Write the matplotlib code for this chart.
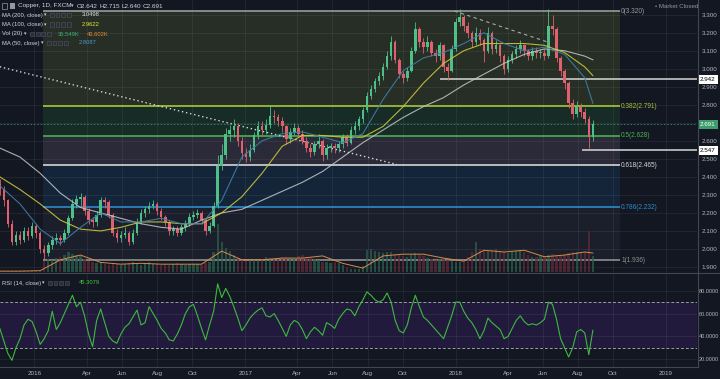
import matplotlib
matplotlib.use('Agg')
import matplotlib.pyplot as plt
import matplotlib.dates as mdates
import matplotlib.transforms as mtransforms
from matplotlib.patches import Rectangle
from matplotlib.lines import Line2D
import numpy as np
import pandas as pd

plt.rcParams['font.family'] = ['Liberation Sans', 'DejaVu Sans']

# ---------------- data (weekly samples) ----------------
first_date = '2015-11-02'
open_first = 2.36
close = [2.33,2.27,2.14,2.04,2.08,2.05,2.10,2.07,2.13,2.09,
         2.00,1.98,2.02,2.05,2.06,2.05,2.09,2.17,2.25,2.28,
         2.29,2.21,2.16,2.15,2.19,2.27,2.26,2.19,2.09,2.06,
         2.08,2.09,2.04,2.09,2.15,2.20,2.22,2.24,2.25,2.21,
         2.18,2.15,2.10,2.11,2.09,2.12,2.14,2.18,2.19,2.20,
         2.16,2.10,2.13,2.24,2.46,2.52,2.64,2.66,2.68,2.60,
         2.53,2.51,2.55,2.63,2.68,2.66,2.69,2.74,2.73,2.71,
         2.68,2.61,2.65,2.67,2.64,2.60,2.56,2.54,2.58,2.60,
         2.52,2.56,2.57,2.56,2.58,2.62,2.59,2.66,2.68,2.72,
         2.77,2.85,2.89,2.93,2.96,3.01,3.07,3.15,3.05,2.97,
         2.95,2.99,3.10,3.22,3.15,3.12,3.15,3.09,3.07,3.13,
         3.01,2.99,3.11,3.26,3.29,3.24,3.20,3.15,3.20,3.16,
         3.10,3.20,3.11,3.13,3.07,3.00,3.05,3.08,3.11,3.13,
         3.10,3.07,3.10,3.09,3.09,3.07,3.24,3.22,3.06,2.99,
         2.92,2.81,2.75,2.79,2.76,2.72,2.62,2.691]
high = [2.39,2.35,2.28,2.16,2.10,2.10,2.12,2.12,2.15,2.14,
        2.10,2.02,2.04,2.07,2.09,2.08,2.11,2.19,2.28,2.30,
        2.31,2.30,2.23,2.18,2.21,2.29,2.29,2.27,2.20,2.11,
        2.10,2.12,2.10,2.11,2.17,2.22,2.24,2.26,2.27,2.26,
        2.23,2.19,2.16,2.13,2.13,2.14,2.16,2.20,2.21,2.22,
        2.21,2.17,2.15,2.26,2.52,2.58,2.67,2.69,2.72,2.70,
        2.62,2.56,2.58,2.65,2.71,2.71,2.72,2.80,2.77,2.75,
        2.73,2.69,2.67,2.70,2.69,2.66,2.62,2.58,2.60,2.64,
        2.61,2.58,2.59,2.59,2.60,2.64,2.64,2.68,2.71,2.74,
        2.79,2.87,2.91,2.95,2.98,3.03,3.10,3.18,3.16,3.06,
        2.99,3.01,3.12,3.26,3.23,3.17,3.18,3.16,3.11,3.15,
        3.14,3.03,3.13,3.28,3.33,3.30,3.26,3.21,3.23,3.22,
        3.17,3.23,3.21,3.16,3.14,3.08,3.07,3.10,3.13,3.16,
        3.14,3.11,3.12,3.12,3.11,3.11,3.33,3.30,3.23,3.07,
        3.00,2.93,2.83,2.82,2.81,2.78,2.74,2.715]
low = [2.30,2.24,2.12,2.02,2.02,2.03,2.04,2.05,2.06,2.06,
       1.98,1.94,1.96,2.00,2.03,2.02,2.04,2.08,2.16,2.23,
       2.24,2.19,2.14,2.12,2.13,2.18,2.23,2.17,2.07,2.04,
       2.04,2.06,2.02,2.03,2.08,2.14,2.18,2.20,2.22,2.19,
       2.16,2.13,2.08,2.08,2.07,2.08,2.10,2.13,2.16,2.17,
       2.14,2.08,2.09,2.12,2.23,2.44,2.50,2.60,2.62,2.57,
       2.50,2.48,2.49,2.54,2.61,2.63,2.64,2.67,2.70,2.68,
       2.65,2.58,2.59,2.63,2.62,2.58,2.54,2.51,2.52,2.56,
       2.49,2.50,2.54,2.53,2.54,2.56,2.57,2.58,2.64,2.66,
       2.70,2.76,2.83,2.87,2.91,2.94,3.00,3.05,3.03,2.95,
       2.92,2.93,2.98,3.09,3.12,3.09,3.10,3.07,3.04,3.05,
       2.98,2.94,2.98,3.10,3.24,3.21,3.17,3.12,3.13,3.13,
       3.04,3.09,3.08,3.09,3.04,2.97,2.98,3.03,3.06,3.09,
       3.07,3.05,3.05,3.06,3.06,3.05,3.06,3.19,3.04,2.96,
       2.89,2.78,2.72,2.73,2.73,2.70,2.56,2.60]
volume_k = [3,2,3,2,3,2,2,3,2,3,3,
            25,30,28,32,35,40,45,42,38,36,
            30,25,22,20,22,18,17,19,18,16,
            18,20,22,19,17,21,22,19,18,17,
            19,17,18,20,19,17,18,19,18,17,20,22,
            45,110,70,55,48,40,
            32,28,25,27,30,28,31,35,33,30,32,35,
            34,32,30,36,38,35,33,30,27,24,22,20,
            22,20,16,12,8,6,8,14,
            50,52,48,46,44,45,46,40,38,36,35,40,44,38,36,33,30,28,30,32,
            28,25,22,24,27,35,45,
            70,52,50,48,50,52,48,45,44,46,48,50,47,
            38,35,34,36,37,40,42,38,40,39,
            44,45,46,45,47,95,36]
ma_sample_idx = list(range(0, 148, 5)) + [147]
ma200 = [2.56,2.51,2.42,2.31,2.23,2.20,2.17,2.14,2.12,2.11,2.16,2.20,2.22,2.27,2.32,2.37,
         2.43,2.51,2.59,2.66,2.73,2.79,2.84,2.91,2.97,3.03,3.08,3.11,3.10,3.07,3.0498]
ma100 = [2.40,2.33,2.25,2.16,2.11,2.10,2.12,2.15,2.15,2.14,2.14,2.20,2.29,2.42,2.57,2.63,
         2.63,2.62,2.62,2.68,2.79,2.92,3.03,3.10,3.14,3.14,3.14,3.13,3.09,3.01,2.9622]
ma50 = [2.35,2.25,2.11,2.03,2.12,2.20,2.15,2.15,2.17,2.14,2.14,2.27,2.51,2.60,2.64,2.65,
        2.62,2.59,2.64,2.83,2.99,3.06,3.09,3.14,3.20,3.14,3.10,3.12,3.08,2.95,2.8087]
vol_ma20 = [2,2,3,28,39,22,18,20,18,18,18,48,28,28,32,32,37,20,9,37,41,41,32,25,50,46,
            50,35,39,46,43.6]
rsi = [47,36,25,19,30,38,50,55,53,44,
       33,38,45,62,46,52,60,68,76,66,
       70,58,42,31,54,64,52,40,36,34,
       42,48,51,57,63,50,52,66,60,54,
       47,43,37,36,42,50,60,66,68,58,
       47,37,50,62,86,74,82,75,66,56,
       45,50,56,60,63,65,58,57,60,54,
       47,40,50,54,52,46,38,44,48,45,
       41,52,50,47,55,60,64,63,58,66,
       72,79,76,72,70,72,78,70,54,45,
       43,50,65,76,66,57,54,50,46,42,
       38,48,58,70,70,62,56,52,46,38,
       45,56,52,49,46,38,40,47,54,58,
       53,50,51,50,52,55,70,68,55,38,
       30,22,30,44,46,43,24,45.3079]

fib_high, fib_low = 3.320, 1.936
fib_levels = [0, 0.382, 0.5, 0.618, 0.786, 1]
fib_start, fib_end = '2016-01-16', '2018-10-13'
hline_prices = [2.942, 2.547]
hline_starts = ['2017-12-05', '2018-08-09']
trend_dotted_dates = ['2015-11-02', '2017-09-21']
trend_dotted_prices = [3.011, 2.469]
trend_dashed_dates = ['2017-12-30', '2018-06-08']
trend_dashed_prices = [3.320, 3.150]
last_price = 2.691
time_ticks = ['2016-01-01','2016-04-01','2016-06-01','2016-08-01','2016-10-01',
              '2017-01-01','2017-04-01','2017-06-01','2017-08-01','2017-10-01',
              '2018-01-01','2018-04-01','2018-06-01','2018-08-01','2018-10-01','2019-01-01']
time_labels = ['2016','Apr','Jun','Aug','Oct','2017','Apr','Jun','Aug','Oct',
               '2018','Apr','Jun','Aug','Oct','2019']
price_ticks = [1.9,2.0,2.1,2.2,2.3,2.4,2.5,2.6,2.7,2.8,2.9,3.0,3.1,3.2,3.3]
price_tick_hidden = [2.7]          # covered by the last-price tag in the reference
rsi_ticks = [20,40,60,80]

# ---------------- style ----------------
BG = '#131722'
UP, DN = '#4fbf88', '#e0616d'
TXT = '#b2b5be'
W, H = 720, 379
FAM = ['Liberation Sans', 'DejaVu Sans']

def fx(px): return px / W
def fy(py): return 1 - py / H

fig = plt.figure(figsize=(7.2, 3.79), dpi=100, facecolor=BG)

base = mdates.date2num(pd.Timestamp('2016-01-01'))
ppd = 210.5 / 365.25
xmin = base - 34.4 / ppd
xmax = base + (697 - 34.4) / ppd
d = lambda s: mdates.date2num(pd.Timestamp(s))

x = mdates.date2num(pd.date_range(first_date, periods=len(close), freq='7D'))
c = np.array(close); o = np.array([open_first] + close[:-1])
hi = np.array(high); lo = np.array(low)
up = c >= o
cols = np.where(up, UP, DN)

# ---------------- main panel ----------------
ax = fig.add_axes([0, fy(272), fx(697), 272 / H])
ax.set_facecolor(BG)
ax.set_xlim(xmin, xmax)
ylo, yhi = 3.3 - (272 - 14.7) / 180.2, 3.3 + 14.7 / 180.2
ax.set_ylim(ylo, yhi)

fib_prices = [fib_high - l * (fib_high - fib_low) for l in fib_levels]
fill_cols = ['#262e25', '#172b27', '#2a2a38', '#14253a', '#1b1f2c']
line_cols = ['#9a9a9a', '#a4c63a', '#4caf50', '#d6d6d6', '#2e8bc9', '#8f8f8f']
fs, fe = d(fib_start), d(fib_end)
for i in range(len(fib_prices) - 1):
    ax.fill_between([fs, fe], fib_prices[i], fib_prices[i + 1], color=fill_cols[i], lw=0, zorder=0.5)
for l, p, col in zip(fib_levels, fib_prices, line_cols):
    ax.hlines(p, fs, fe, color=col, lw=1.2, zorder=1.2)
    ax.text(fe + 2, p, f"{l:g}({p:.3f})", color=col, fontsize=4.7, family=FAM,
            va='center', ha='left', zorder=6)

for p in price_ticks:
    ax.axhline(p, color='white', alpha=0.07, lw=0.6, zorder=1)
for t in time_ticks:
    ax.axvline(d(t), color='white', alpha=0.07, lw=0.6, zorder=1)

# volume
trans = mtransforms.blended_transform_factory(ax.transData, ax.transAxes)
vol_scale = 272 * 2.3
vcols = np.where(up, '#2a5e4b', '#5f2a37')
ax.bar(x, np.array(volume_k) / vol_scale, width=4.0, bottom=0, color=vcols, lw=0,
       transform=trans, zorder=1.5, alpha=0.75)
xs = x[ma_sample_idx]
ax.plot(xs, np.array(vol_ma20) / vol_scale, color='#d98a48', lw=0.7, transform=trans, zorder=1.6)

# horizontal lines / trend lines
for p, s in zip(hline_prices, hline_starts):
    ax.hlines(p, d(s), xmax, color='#d8d8d8', lw=1.1, zorder=2)
ax.plot([d(s) for s in trend_dotted_dates], trend_dotted_prices, color='#d8d8d8', lw=1.0,
        ls=(0, (1, 2)), zorder=2)
ax.plot([d(s) for s in trend_dashed_dates], trend_dashed_prices, color='#aaaaaa', lw=0.8,
        ls=(0, (3, 3)), zorder=2)
ax.axhline(last_price, color='#3aa07a', lw=0.6, ls=(0, (2, 2)), alpha=0.8, zorder=2)

# moving averages
ax.plot(xs, ma200, color='#c8c8c8', lw=0.8, alpha=0.85, zorder=5)
ax.plot(xs, ma100, color='#c8c83a', lw=0.8, alpha=0.9, zorder=5)
ax.plot(xs, ma50, color='#3d7fa6', lw=0.8, alpha=0.9, zorder=5)

# candles
ax.vlines(x, lo, hi, colors=cols, lw=0.6, zorder=3)
ax.bar(x, np.maximum(np.abs(c - o), 0.004), bottom=np.minimum(o, c), width=4.5,
       color=cols, lw=0, zorder=4)

ax.yaxis.tick_right()
ax.set_yticks(price_ticks)
ax.set_yticklabels(['' if p in price_tick_hidden else f"{p:.3f}" for p in price_ticks])
ax.tick_params(axis='y', length=0, pad=3.5, labelcolor=TXT, labelsize=4.5)
ax.set_xticks([])
for sp in ax.spines.values():
    sp.set_visible(False)

tb = mtransforms.blended_transform_factory(ax.transAxes, ax.transData)
for p, fc, tc in [(2.942, '#ffffff', '#000000'), (last_price, '#3c9c6c', '#ffffff'),
                  (2.547, '#ffffff', '#000000')]:
    ax.text(1.004, p, f"{p:.3f}", transform=tb, fontsize=4.5, family=FAM, color=tc,
            va='center', ha='left',
            bbox=dict(boxstyle='square,pad=0.35', fc=fc, ec='none'), zorder=10, clip_on=False)

# ---------------- RSI panel ----------------
axr = fig.add_axes([0, fy(367), fx(697), (367 - 273) / H])
axr.set_facecolor(BG)
axr.set_xlim(xmin, xmax)
axr.set_ylim(13.2, 95.5)
axr.axhspan(30, 70, color='#221a3c', lw=0, zorder=0)
for v in rsi_ticks:
    axr.axhline(v, color='white', alpha=0.07, lw=0.6, zorder=1)
for t in time_ticks:
    axr.axvline(d(t), color='white', alpha=0.07, lw=0.6, zorder=1)
for v in (70, 30):
    axr.axhline(v, color='#9a9ca6', lw=0.7, ls=(0, (3, 2)), zorder=2)
axr.plot(x, rsi, color='#3cba3c', lw=0.8, zorder=3)
axr.yaxis.tick_right()
axr.set_yticks(rsi_ticks)
axr.set_yticklabels([f"{v:.4f}" for v in rsi_ticks])
axr.tick_params(axis='y', length=0, pad=1.0, labelcolor=TXT, labelsize=4.0)
axr.set_xticks([d(t) for t in time_ticks])
axr.set_xticklabels(time_labels)
axr.tick_params(axis='x', length=0, pad=3, labelcolor=TXT, labelsize=4.5)
for sp in axr.spines.values():
    sp.set_visible(False)

# separators
sep = '#434651'
fig.add_artist(Line2D([fx(697.5)] * 2, [fy(0), fy(367)], color=sep, lw=0.8))
fig.add_artist(Line2D([0, 1], [fy(272.5)] * 2, color=sep, lw=0.8))
fig.add_artist(Line2D([0, fx(697.5)], [fy(367)] * 2, color=sep, lw=0.8))

# ---------------- legend texts ----------------
def ftext(px, py, s, color='#d1d4dc', size=4.2, **kw):
    fig.text(fx(px), fy(py), s, color=color, fontsize=size, family=FAM,
             va='center', ha='left', **kw)

def arrow(px, py, color='#d1d4dc'):
    fig.text(fx(px), fy(py), '\u25be', color=color, fontsize=3.5, family='DejaVu Sans',
             va='center', ha='left')

def icons(px, py, n=4):
    for k in range(n):
        fig.add_artist(Rectangle((fx(px + k * 5.5), fy(py + 2)), 4 / W, 4 / H,
                                 fc='#2a2e39', ec='#50535e', lw=0.4))

fig.add_artist(Rectangle((fx(2), fy(9)), 5 / W, 6 / H, fc='none', ec='#9598a1', lw=0.5))
fig.add_artist(Rectangle((fx(10), fy(9)), 5 / W, 6 / H, fc='#9598a1', ec='none'))
ftext(18, 6, 'Copper, 1D, FXCM', size=4.6)
arrow(71, 6)
ftext(77, 6, 'O2.642', size=4.6)
ftext(99, 6, 'H2.715', size=4.6)
ftext(122, 6, 'L2.640', size=4.6)
ftext(143, 6, 'C2.691', size=4.6)

ftext(2, 15, 'MA (200, close)')
arrow(44, 15)
icons(50, 15)
ftext(82, 15, '3.0498', color='#e0e0e0')
ftext(2, 24.5, 'MA (100, close)')
arrow(44, 24.5)
icons(50, 24.5)
ftext(82, 24.5, '2.9622', color='#e6e63a')
ftext(2, 34, 'Vol (20)')
arrow(24, 34)
icons(30, 34)
ftext(58, 34, '35.549K', color='#3fae7a')
ftext(87, 34, '43.602K', color='#e8883c')
ftext(2, 43, 'MA (50, close)')
arrow(41, 43)
icons(47, 43)
ftext(79, 43, '2.8087', color='#4a98c8')

ftext(2, 283, 'RSI (14, close)')
arrow(42, 283)
icons(48, 283)
ftext(79, 283, '45.3079', color='#3cc83c')

ftext(655, 6, '\u2022 Market Closed', color='#9598a1', size=4.4)

fig.savefig('out.png', dpi=100, facecolor=BG)
